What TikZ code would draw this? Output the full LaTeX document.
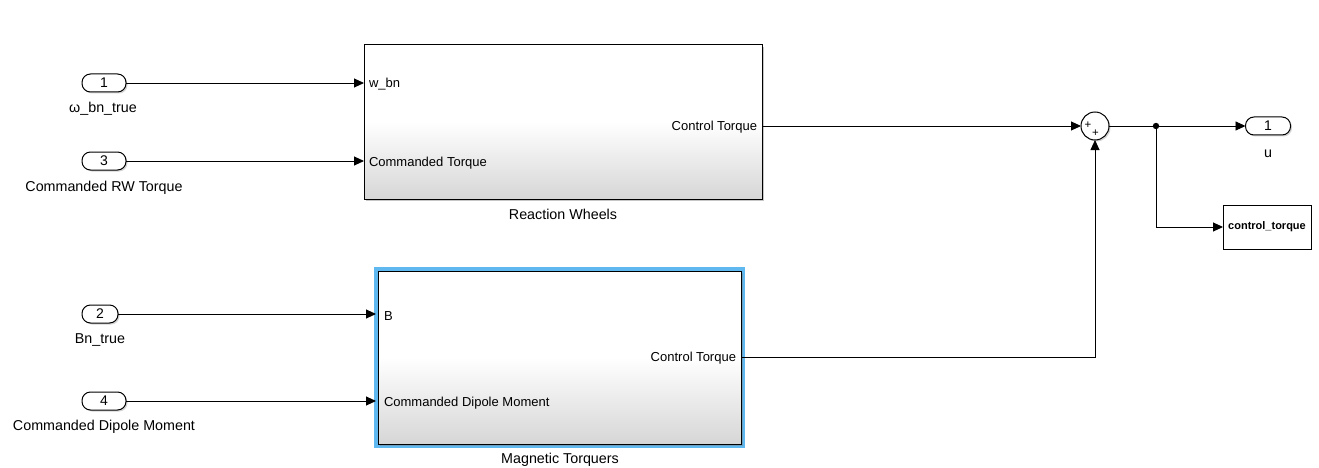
\documentclass[tikz,border=0pt]{standalone}
\usepackage{fontspec}
\setmainfont{Liberation Sans}
\usetikzlibrary{arrows.meta,shadows,positioning}
\definecolor{selblue}{RGB}{95,184,240}
\definecolor{shadebot}{RGB}{214,214,214}
\tikzset{
  x=1pt, y=-1pt,
  every node/.style={inner sep=0pt, outer sep=0pt},
  lbl/.style={font=\fontsize{14.3}{16}\selectfont, yshift=-1.5pt},
  plbl/.style={font=\fontsize{13}{15}\selectfont, yshift=-1.5pt},
  port/.style={draw, line width=1pt, rounded corners=8.5pt, fill=white,
    minimum height=18pt, font=\fontsize{14}{16}\selectfont,
    drop shadow={shadow xshift=1.5pt, shadow yshift=-1.5pt, opacity=0.35}},
  subsys/.style={draw, line width=1pt, top color=white, bottom color=shadebot,
    middle color=white, shading angle=0,
    drop shadow={shadow xshift=2pt, shadow yshift=-2pt, opacity=0.45}},
  sumblk/.style={draw, circle, line width=1pt, fill=white, minimum size=28pt,
    drop shadow={shadow xshift=1.5pt, shadow yshift=-1.5pt, opacity=0.35}},
  signlbl/.style={font=\fontsize{11.5}{12}\selectfont},
  gotoblk/.style={draw, line width=1pt, fill=white, minimum width=88pt, minimum height=44pt,
    font=\fontsize{11}{13}\selectfont\bfseries},
  arr/.style={line width=0.9pt, -{Triangle[length=10pt,width=9pt]}},
}
\begin{document}
\begin{tikzpicture}
\useasboundingbox (0,0) rectangle (1319,468);

% inports
\node[port, minimum width=44pt] (in1) at (104,83) {1};
\node[lbl] (in1l) at (103,107) {ω\_bn\_true};
\node[port, minimum width=44pt] (in3) at (104,161) {3};
\node[lbl] (in3l) at (104,186) {Commanded RW Torque};
\node[port, minimum width=36pt] (in2) at (100,314) {2};
\node[lbl] (in2l) at (100,338) {Bn\_true};
\node[port, minimum width=44pt] (in4) at (104,401) {4};
\node[lbl] (in4l) at (104,425) {Commanded Dipole Moment};

% reaction wheels
\node[subsys, minimum width=398pt, minimum height=154pt] (rw) at (563,122) {};
\node[plbl, anchor=west] (rwp1) at (369,83) {w\_bn};
\node[plbl, anchor=west] (rwp2) at (369,162) {Commanded Torque};
\node[plbl, anchor=east] (rwo) at (757,126) {Control Torque};
\node[lbl] (rwl) at (563,213) {Reaction Wheels};

% magnetic torquers
\node[draw=selblue, line width=4pt, minimum width=367pt, minimum height=177pt] (mtsel) at (559.5,357) {};
\node[subsys, minimum width=363pt, minimum height=173pt] (mt) at (559.5,357.5) {};
\node[plbl, anchor=west] (mtp1) at (384,315) {B};
\node[plbl, anchor=west] (mtp2) at (384,402) {Commanded Dipole Moment};
\node[plbl, anchor=east] (mto) at (736,357) {Control Torque};
\node[lbl] (mtl) at (560,458) {Magnetic Torquers};

% sum
\node[sumblk] (sum) at (1095,126) {};
\node[signlbl] (p1) at (1088,125) {+};
\node[signlbl] (p2) at (1095.5,133) {+};

% outport and goto
\node[port, minimum width=45pt] (out1) at (1268,126) {1};
\node[lbl] (outl) at (1268,152) {u};
\node[gotoblk] (goto) at (1267,227) {control\_torque};
\coordinate (jn) at (1156,126);
\coordinate (mtc) at (1095,357);

% wires
\draw[arr] (in1.east) -- (in1.east -| rw.west);
\draw[arr] (in3.east) -- (in3.east -| rw.west);
\draw[arr] (in2.east) -- (in2.east -| mtsel.west);
\draw[arr] (in4.east) -- (in4.east -| mtsel.west);
\draw[arr] (rw.east |- sum) -- (sum.west);
\draw[arr] (mt.east |- mtc) -- (mtc) -- (sum.south);
\draw[arr] (sum.east) -- (out1.west);
\draw[arr] (jn) |- (goto.west);
\fill (jn) circle (3.2pt);
\end{tikzpicture}
\end{document}
